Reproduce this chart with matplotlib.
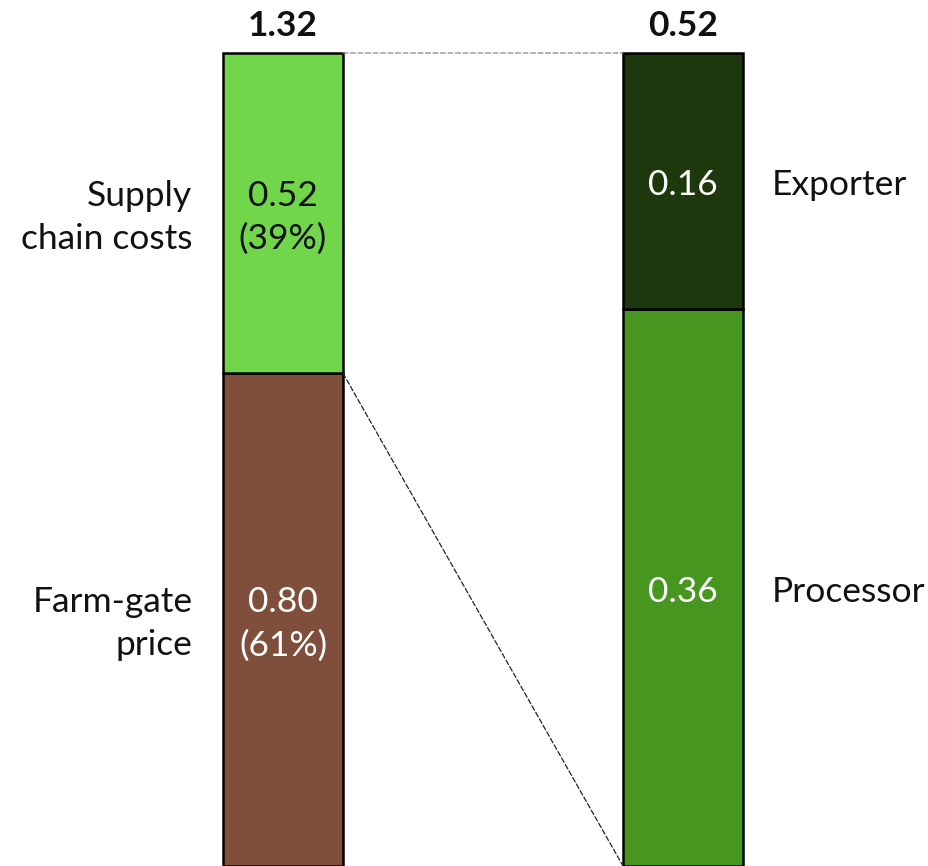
import matplotlib.pyplot as plt
from matplotlib.patches import ConnectionPatch

# data
left_labels = ["Farm-gate\nprice", "Supply\nchain costs"]
left_values = [0.80, 0.52]
left_shares = [61, 39]
left_colors = ["#7F4F3B", "#72D64B"]
left_text_colors = ["white", "#111111"]

right_labels = ["Processor", "Exporter"]
right_values = [0.356, 0.164]
right_colors = ["#47961F", "#1E380D"]

left_total = 1.32
right_total = 0.52

plt.rcParams['font.family'] = ['Lato', 'DejaVu Sans']

fig = plt.figure(figsize=(9.29, 8.66), dpi=100)
ax = fig.add_axes([0, 0, 1, 1 - 53 / 866])
ax2 = ax.twinx()

bw = 0.3
fs = 25.5
for a in (ax, ax2):
    a.set_xlim(-283 / 400, (929 - 283) / 400)
    a.axis("off")
ax.set_ylim(0, left_total)
ax2.set_ylim(0, right_total)


def label(a, x, y, s, dx=0, dy=-3, **kw):
    a.annotate(s, (x, y), xytext=(dx, dy), textcoords="offset points",
               fontsize=fs, linespacing=1.42, va="center", **kw)


# left bar
bottom = 0
for lab, val, sh, col, tc in zip(left_labels, left_values, left_shares, left_colors, left_text_colors):
    ax.bar(0, val, bottom=bottom, width=bw, color=col, edgecolor="black", linewidth=1.8, clip_on=False)
    mid = bottom + val / 2
    label(ax, 0, mid, f"{val:.2f}\n({sh}%)", ha="center", color=tc)
    label(ax, -bw / 2, mid, lab, dx=-22, ha="right", color="#111111")
    bottom += val

# right bar
bottom = 0
for lab, val, col in zip(right_labels, right_values, right_colors):
    ax2.bar(1, val, bottom=bottom, width=bw, color=col, edgecolor="black", linewidth=1.8, clip_on=False)
    mid = bottom + val / 2
    label(ax2, 1, mid, f"{val:.2f}", ha="center", color="white")
    label(ax2, 1 + bw / 2, mid, lab, dx=21, ha="left", color="#111111")
    bottom += val

# totals
ax.annotate(f"{left_total:.2f}", (0, left_total), xytext=(0, 8), textcoords="offset points",
            ha="center", va="bottom", fontsize=fs, fontweight="bold", color="#111111")
ax2.annotate(f"{right_total:.2f}", (1, right_total), xytext=(0, 8), textcoords="offset points",
             ha="center", va="bottom", fontsize=fs, fontweight="bold", color="#111111")

# connector lines
top_line = ConnectionPatch(xyA=(bw / 2, left_total), coordsA=ax.transData,
                           xyB=(1 - bw / 2, right_total), coordsB=ax2.transData,
                           color="#888888", linewidth=0.9, linestyle=(0, (4, 2)))
fig.add_artist(top_line)
low_line = ConnectionPatch(xyA=(bw / 2, left_values[0]), coordsA=ax.transData,
                           xyB=(1 - bw / 2, 0), coordsB=ax2.transData,
                           color="#222222", linewidth=0.9, linestyle=(0, (4, 2)))
fig.add_artist(low_line)

fig.savefig("out.png", dpi=100)
